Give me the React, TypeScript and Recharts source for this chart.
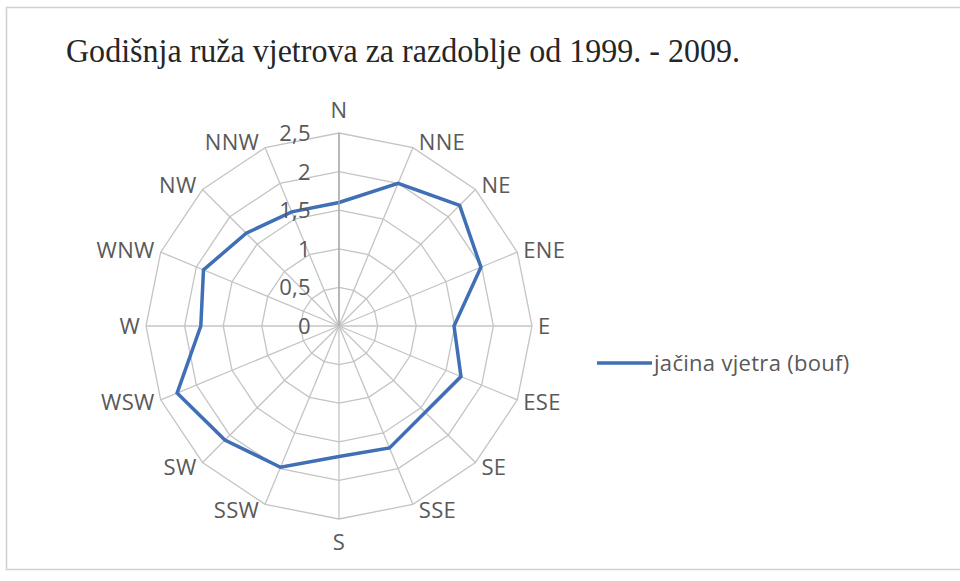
import React from 'react';
import { RadarChart, Radar, PolarGrid, PolarAngleAxis, PolarRadiusAxis, Legend } from 'recharts';

const directions = ['N', 'NNE', 'NE', 'ENE', 'E', 'ESE', 'SE', 'SSE', 'S', 'SSW', 'SW', 'WSW', 'W', 'WNW', 'NW', 'NNW'];
const windValues = [1.6, 2.0, 2.21, 1.99, 1.49, 1.71, 1.58, 1.71, 1.69, 1.98, 2.09, 2.27, 1.79, 1.9, 1.7, 1.6];
const radiusMax = 2.5;
const radiusTicks = [0, 0.5, 1, 1.5, 2, 2.5];
const seriesName = 'jačina vjetra (bouf)';
const titleText = 'Godišnja ruža vjetrova za razdoblje od 1999. - 2009.';

const data = directions.map((d, i) => ({ dir: d, value: windValues[i] }));

const CX = 339;
const CY = 326;
const R = 193;
const LABEL_FONT = '"Open Sans", "Noto Sans", sans-serif';
const LABEL_COLOR = '#595959';

const AngleTick = (props: any) => {
  const { x, y, payload } = props;
  const cx = typeof props.cx === 'number' ? props.cx : CX;
  const cy = typeof props.cy === 'number' ? props.cy : CY;
  const dx = x - cx;
  const dy = y - cy;
  const len = Math.sqrt(dx * dx + dy * dy) || 1;
  const ux = dx / len;
  const uy = dy / len;
  const ex = cx + ux * R;
  const ey = cy + uy * R;
  let anchor: 'start' | 'end' | 'middle' = 'middle';
  let tx = ex;
  let ty = ey;
  if (ux > 0.1) {
    anchor = 'start';
    tx = ex + 6;
    ty = ey + uy * 6.5;
  } else if (ux < -0.1) {
    anchor = 'end';
    tx = ex - 6;
    ty = ey + uy * 6.5;
  } else {
    ty = ey + uy * 23;
  }
  return (
    <text x={tx} y={ty} dy="0.36em" textAnchor={anchor} fill={LABEL_COLOR} fontSize={22} fontFamily={LABEL_FONT} letterSpacing={0.3}>
      {payload.value}
    </text>
  );
};

const RadiusTick = (props: any) => {
  const { x, y, payload } = props;
  return (
    <text x={x - 28} y={y} dy="0.36em" textAnchor="end" fill={LABEL_COLOR} fontSize={22} fontFamily={LABEL_FONT} letterSpacing={0.3}>
      {String(payload.value).replace('.', ',')}
    </text>
  );
};

const LegendContent = () => (
  <svg width={360} height={44} style={{ display: 'block', overflow: 'visible' }}>
    <line x1={2} y1={22} x2={57} y2={22} stroke="#3f6fb5" strokeWidth={3.5} />
    <text x={59} y={22} dy="0.36em" fill={LABEL_COLOR} fontSize={22} fontFamily={LABEL_FONT} letterSpacing={0.3}>
      {seriesName}
    </text>
  </svg>
);

export default function App() {
  return (
    <div style={{ position: 'absolute', left: 0, top: 0, width: 960, height: 581, background: '#fff' }}>
      <svg width={960} height={581} style={{ position: 'absolute', left: 0, top: 0 }}>
        <rect x={6.5} y={7.5} width={970} height={562} fill="#fff" stroke="#d0d0d0" strokeWidth={1.5} />
        <text x={66} y={62} fontFamily='"Liberation Serif", "Times New Roman", serif' fontSize={34} fill="#262626" textLength={674} lengthAdjust="spacingAndGlyphs">
          {titleText}
        </text>
      </svg>
      <div style={{ position: 'absolute', left: 0, top: 0 }}>
        <RadarChart width={960} height={581} data={data} cx={CX} cy={CY} outerRadius={R} margin={{ top: 0, right: 0, bottom: 0, left: 0 }}>
          <PolarGrid gridType="polygon" stroke="#c4c4c4" strokeWidth={1.3} />
          <PolarAngleAxis dataKey="dir" tick={<AngleTick />} tickLine={false} axisLine={false} />
          <PolarRadiusAxis
            type="number"
            angle={90}
            domain={[0, radiusMax]}
            allowDataOverflow={true}
            allowDecimals={true}
            tickCount={radiusTicks.length}
            ticks={radiusTicks}
            tick={<RadiusTick />}
            axisLine={{ stroke: '#a6a6a6', strokeWidth: 1.3 }}
            tickLine={false}
          />
          <Radar
            name={seriesName}
            dataKey="value"
            stroke="#3f6fb5"
            strokeWidth={3.5}
            fill="none"
            fillOpacity={0}
            dot={false}
            isAnimationActive={false}
          />
          <Legend
            layout="vertical"
            verticalAlign="top"
            align="left"
            wrapperStyle={{ left: 595, top: 341, width: 360, height: 44 }}
            content={<LegendContent />}
          />
        </RadarChart>
      </div>
    </div>
  );
}
